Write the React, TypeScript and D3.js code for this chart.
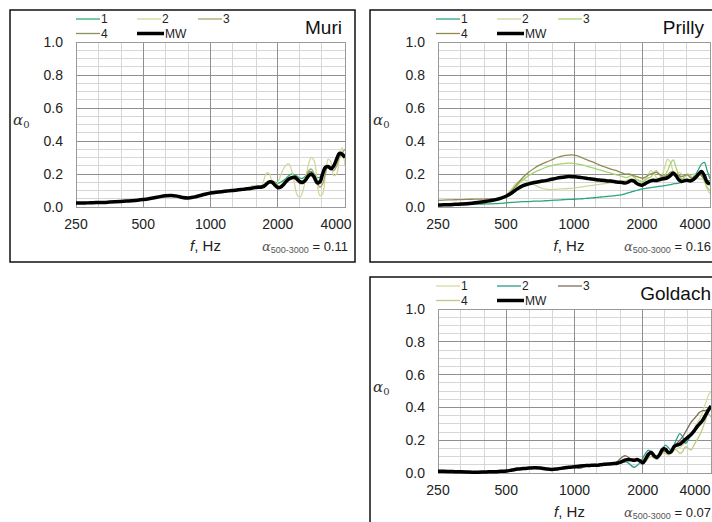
import React from "react";
import * as d3 from "d3";

// frequency points: 1/12 octave up to 1 kHz, 1/24 octave above
const freqs = [
  250, 265, 281, 297, 315, 334, 354, 375, 397, 420, 445, 472, 500, 530, 561, 595, 630, 667, 707, 749, 794, 841, 891, 944, 1000,
  1029, 1059, 1090, 1122, 1155, 1189, 1224, 1260, 1297, 1335, 1374, 1414,
  1456, 1498, 1542, 1587, 1634, 1682, 1731, 1782, 1834, 1888, 1943, 2000,
  2059, 2119, 2181, 2245, 2311, 2378, 2448, 2520, 2594, 2670, 2748, 2828,
  2911, 2997, 3084, 3175, 3268, 3364, 3462, 3564, 3668, 3775, 3886, 4000,
];
const xTicks = [250, 500, 1000, 2000, 4000];
const xMinor = [315, 400, 630, 800, 1250, 1600, 2500, 3150];
const yTicks = [0, 0.2, 0.4, 0.6, 0.8, 1.0];
const legendLabels = ["1", "2", "3", "4", "MW"];

// Muri
const muri1 = [
  0.026, 0.026, 0.026, 0.027, 0.028, 0.029, 0.031, 0.033, 0.035, 0.037, 0.039, 0.042, 0.046, 0.051, 0.057, 0.064, 0.069, 0.071, 0.067, 0.06, 0.057, 0.061, 0.069, 0.078, 0.086,
  0.088, 0.09, 0.092, 0.094, 0.096, 0.098, 0.1, 0.101, 0.103, 0.105, 0.107, 0.109,
  0.111, 0.113, 0.116, 0.12, 0.125, 0.13, 0.135, 0.14, 0.145, 0.15, 0.15, 0.145,
  0.15, 0.16, 0.175, 0.19, 0.2, 0.195, 0.185, 0.175, 0.175, 0.19, 0.21, 0.215,
  0.2, 0.18, 0.18, 0.21, 0.24, 0.25, 0.24, 0.25, 0.28, 0.31, 0.32, 0.31,
];
const muri2 = [
  0.024, 0.024, 0.025, 0.025, 0.026, 0.027, 0.029, 0.031, 0.033, 0.035, 0.037, 0.04, 0.044, 0.049, 0.055, 0.062, 0.067, 0.07, 0.066, 0.057, 0.053, 0.058, 0.066, 0.075, 0.083,
  0.087, 0.09, 0.09, 0.092, 0.096, 0.098, 0.098, 0.1, 0.103, 0.105, 0.105, 0.108,
  0.112, 0.12, 0.13, 0.125, 0.115, 0.12, 0.16, 0.205, 0.2, 0.15, 0.13, 0.15,
  0.19, 0.23, 0.255, 0.26, 0.22, 0.14, 0.07, 0.06, 0.1, 0.18, 0.26, 0.3,
  0.28, 0.17, 0.07, 0.08, 0.2, 0.29, 0.27, 0.19, 0.2, 0.3, 0.36, 0.25,
];
const muri3 = [
  0.026, 0.026, 0.026, 0.026, 0.027, 0.028, 0.03, 0.032, 0.034, 0.036, 0.038, 0.041, 0.045, 0.05, 0.056, 0.063, 0.068, 0.07, 0.066, 0.058, 0.055, 0.06, 0.068, 0.077, 0.085,
  0.087, 0.089, 0.091, 0.093, 0.095, 0.097, 0.099, 0.1, 0.102, 0.104, 0.106, 0.108,
  0.11, 0.112, 0.118, 0.125, 0.13, 0.125, 0.12, 0.13, 0.15, 0.16, 0.15, 0.13,
  0.12, 0.13, 0.16, 0.18, 0.18, 0.17, 0.155, 0.14, 0.15, 0.18, 0.22, 0.23,
  0.2, 0.16, 0.12, 0.14, 0.2, 0.25, 0.24, 0.22, 0.25, 0.3, 0.33, 0.35,
];
const muri4 = [
  0.024, 0.024, 0.024, 0.025, 0.026, 0.027, 0.029, 0.031, 0.033, 0.035, 0.037, 0.04, 0.044, 0.049, 0.055, 0.062, 0.067, 0.069, 0.065, 0.057, 0.054, 0.059, 0.067, 0.076, 0.084,
  0.086, 0.088, 0.09, 0.092, 0.094, 0.096, 0.098, 0.099, 0.101, 0.103, 0.105, 0.107,
  0.109, 0.111, 0.114, 0.117, 0.119, 0.12, 0.125, 0.135, 0.145, 0.145, 0.135, 0.125,
  0.125, 0.135, 0.15, 0.165, 0.17, 0.175, 0.17, 0.16, 0.16, 0.17, 0.185, 0.19,
  0.18, 0.16, 0.16, 0.19, 0.23, 0.24, 0.23, 0.25, 0.28, 0.31, 0.31, 0.3,
];
const muriMW = [
  0.025, 0.025, 0.025, 0.026, 0.027, 0.028, 0.03, 0.032, 0.034, 0.036, 0.038, 0.041, 0.045, 0.05, 0.056, 0.063, 0.068, 0.07, 0.066, 0.058, 0.055, 0.06, 0.068, 0.077, 0.085,
  0.087, 0.089, 0.091, 0.093, 0.095, 0.097, 0.099, 0.1, 0.102, 0.104, 0.106, 0.108,
  0.11, 0.112, 0.115, 0.118, 0.12, 0.12, 0.125, 0.14, 0.152, 0.15, 0.132, 0.118,
  0.12, 0.135, 0.155, 0.17, 0.178, 0.18, 0.168, 0.152, 0.15, 0.165, 0.19, 0.2,
  0.18, 0.148, 0.15, 0.2, 0.24, 0.245, 0.232, 0.25, 0.29, 0.325, 0.32, 0.3,
];

// Prilly
const prilly1 = [
  0.012, 0.012, 0.013, 0.013, 0.014, 0.015, 0.016, 0.017, 0.018, 0.019, 0.02, 0.022, 0.025, 0.028, 0.03, 0.032, 0.033, 0.035, 0.036, 0.038, 0.04, 0.042, 0.044, 0.046, 0.047,
  0.048, 0.049, 0.05, 0.052, 0.053, 0.055, 0.056, 0.058, 0.06, 0.061, 0.063, 0.065,
  0.066, 0.068, 0.07, 0.072, 0.075, 0.08, 0.085, 0.09, 0.095, 0.1, 0.105, 0.11,
  0.112, 0.115, 0.118, 0.12, 0.122, 0.125, 0.127, 0.13, 0.132, 0.135, 0.14, 0.142,
  0.145, 0.15, 0.155, 0.16, 0.165, 0.18, 0.2, 0.23, 0.26, 0.27, 0.22, 0.17,
];
const prilly2 = [
  0.015, 0.016, 0.017, 0.018, 0.02, 0.022, 0.024, 0.027, 0.03, 0.035, 0.04, 0.05, 0.07, 0.11, 0.15, 0.165, 0.155, 0.135, 0.118, 0.108, 0.105, 0.108, 0.11, 0.112, 0.115,
  0.118, 0.12, 0.122, 0.125, 0.128, 0.13, 0.132, 0.135, 0.137, 0.14, 0.142, 0.145,
  0.147, 0.15, 0.152, 0.155, 0.158, 0.16, 0.165, 0.17, 0.17, 0.165, 0.16, 0.16,
  0.17, 0.19, 0.22, 0.21, 0.18, 0.17, 0.19, 0.24, 0.29, 0.27, 0.22, 0.2,
  0.21, 0.2, 0.17, 0.16, 0.17, 0.2, 0.19, 0.17, 0.17, 0.16, 0.11, 0.08,
];
const prilly3 = [
  0.015, 0.016, 0.017, 0.018, 0.019, 0.02, 0.022, 0.025, 0.028, 0.032, 0.037, 0.045, 0.06, 0.09, 0.13, 0.165, 0.19, 0.21, 0.225, 0.24, 0.25, 0.258, 0.263, 0.266, 0.265,
  0.262, 0.258, 0.255, 0.25, 0.245, 0.24, 0.235, 0.23, 0.225, 0.22, 0.215, 0.21,
  0.205, 0.2, 0.195, 0.19, 0.185, 0.18, 0.18, 0.19, 0.185, 0.17, 0.16, 0.15,
  0.16, 0.175, 0.18, 0.2, 0.22, 0.2, 0.18, 0.19, 0.22, 0.26, 0.285, 0.24,
  0.19, 0.17, 0.18, 0.2, 0.19, 0.17, 0.18, 0.2, 0.19, 0.16, 0.12, 0.1,
];
const prilly4 = [
  0.04, 0.042, 0.043, 0.044, 0.045, 0.046, 0.047, 0.048, 0.048, 0.049, 0.05, 0.055, 0.07, 0.1, 0.14, 0.18, 0.21, 0.235, 0.255, 0.27, 0.285, 0.3, 0.31, 0.315, 0.315,
  0.312, 0.305, 0.298, 0.29, 0.283, 0.277, 0.27, 0.262, 0.255, 0.248, 0.242, 0.236,
  0.23, 0.225, 0.22, 0.213, 0.207, 0.2, 0.2, 0.198, 0.19, 0.185, 0.18, 0.175,
  0.18, 0.19, 0.2, 0.205, 0.21, 0.2, 0.19, 0.185, 0.195, 0.21, 0.215, 0.2,
  0.19, 0.185, 0.19, 0.195, 0.18, 0.17, 0.185, 0.2, 0.19, 0.17, 0.16, 0.16,
];
const prillyMW = [
  0.012, 0.013, 0.014, 0.016, 0.018, 0.02, 0.023, 0.027, 0.032, 0.037, 0.043, 0.052, 0.065, 0.085, 0.11, 0.13, 0.14, 0.148, 0.155, 0.16, 0.168, 0.175, 0.18, 0.185, 0.183,
  0.182, 0.18, 0.178, 0.175, 0.172, 0.17, 0.168, 0.165, 0.163, 0.162, 0.16, 0.158,
  0.157, 0.155, 0.152, 0.15, 0.148, 0.145, 0.15, 0.16, 0.158, 0.145, 0.135, 0.132,
  0.14, 0.15, 0.158, 0.162, 0.16, 0.165, 0.17, 0.172, 0.178, 0.19, 0.205, 0.19,
  0.165, 0.155, 0.16, 0.162, 0.158, 0.165, 0.18, 0.2, 0.215, 0.19, 0.15, 0.14,
];

// Goldach
const goldach1 = [
  0.012, 0.012, 0.011, 0.01, 0.009, 0.008, 0.007, 0.007, 0.008, 0.009, 0.01, 0.012, 0.014, 0.02, 0.026, 0.03, 0.033, 0.035, 0.032, 0.027, 0.024, 0.027, 0.032, 0.037, 0.04,
  0.042, 0.044, 0.046, 0.047, 0.048, 0.05, 0.05, 0.05, 0.052, 0.054, 0.056, 0.058,
  0.06, 0.062, 0.064, 0.068, 0.074, 0.08, 0.085, 0.085, 0.082, 0.085, 0.08, 0.07,
  0.085, 0.11, 0.12, 0.105, 0.1, 0.11, 0.13, 0.135, 0.12, 0.12, 0.14, 0.15,
  0.155, 0.17, 0.19, 0.21, 0.24, 0.27, 0.3, 0.33, 0.37, 0.42, 0.47, 0.5,
];
const goldach2 = [
  0.008, 0.008, 0.008, 0.007, 0.006, 0.005, 0.004, 0.004, 0.005, 0.006, 0.007, 0.009, 0.011, 0.016, 0.022, 0.025, 0.028, 0.03, 0.028, 0.024, 0.021, 0.023, 0.028, 0.033, 0.036,
  0.038, 0.04, 0.042, 0.043, 0.044, 0.045, 0.046, 0.046, 0.048, 0.05, 0.052, 0.053,
  0.054, 0.055, 0.058, 0.06, 0.065, 0.068, 0.06, 0.045, 0.035, 0.045, 0.065, 0.09,
  0.12, 0.14, 0.13, 0.1, 0.085, 0.11, 0.15, 0.17, 0.155, 0.14, 0.17, 0.21,
  0.24, 0.22, 0.18, 0.2, 0.24, 0.25, 0.27, 0.3, 0.33, 0.36, 0.38, 0.4,
];
const goldach3 = [
  0.01, 0.01, 0.009, 0.008, 0.007, 0.006, 0.005, 0.005, 0.006, 0.007, 0.008, 0.01, 0.012, 0.018, 0.024, 0.027, 0.03, 0.032, 0.03, 0.025, 0.022, 0.025, 0.03, 0.035, 0.035,
  0.03, 0.028, 0.035, 0.045, 0.05, 0.05, 0.048, 0.047, 0.05, 0.052, 0.055, 0.056,
  0.058, 0.062, 0.07, 0.085, 0.1, 0.105, 0.095, 0.08, 0.07, 0.075, 0.07, 0.06,
  0.075, 0.1, 0.12, 0.11, 0.1, 0.11, 0.13, 0.13, 0.12, 0.13, 0.16, 0.18,
  0.2, 0.22, 0.25, 0.28, 0.31, 0.33, 0.35, 0.37, 0.38, 0.38, 0.39, 0.4,
];
const goldach4 = [
  0.01, 0.01, 0.009, 0.008, 0.007, 0.006, 0.005, 0.005, 0.006, 0.007, 0.008, 0.01, 0.012, 0.018, 0.024, 0.027, 0.03, 0.032, 0.03, 0.025, 0.022, 0.025, 0.03, 0.035, 0.04,
  0.042, 0.044, 0.046, 0.046, 0.046, 0.047, 0.048, 0.048, 0.05, 0.052, 0.054, 0.055,
  0.055, 0.056, 0.058, 0.06, 0.065, 0.07, 0.075, 0.08, 0.08, 0.085, 0.08, 0.065,
  0.07, 0.09, 0.1, 0.09, 0.085, 0.1, 0.12, 0.12, 0.11, 0.12, 0.14, 0.14,
  0.12, 0.13, 0.16, 0.15, 0.14, 0.17, 0.2, 0.23, 0.27, 0.32, 0.36, 0.34,
];
const goldachMW = [
  0.01, 0.01, 0.009, 0.008, 0.007, 0.006, 0.005, 0.005, 0.006, 0.007, 0.008, 0.01, 0.012, 0.018, 0.024, 0.027, 0.03, 0.032, 0.03, 0.025, 0.022, 0.025, 0.03, 0.035, 0.038,
  0.04, 0.042, 0.044, 0.045, 0.046, 0.047, 0.048, 0.048, 0.05, 0.052, 0.054, 0.055,
  0.056, 0.058, 0.06, 0.065, 0.072, 0.08, 0.082, 0.08, 0.078, 0.082, 0.075, 0.062,
  0.085, 0.115, 0.125, 0.105, 0.095, 0.115, 0.145, 0.145, 0.125, 0.13, 0.16, 0.17,
  0.175, 0.19, 0.205, 0.22, 0.235, 0.255, 0.28, 0.3, 0.32, 0.35, 0.38, 0.41,
];

const panels = [
  {
    name: "Muri", alpha: "0.11",
    bx: 10, by: 10, bw: 345, bh: 252,
    left: 76, right: 345, top: 42, bottom: 207, titleX: 342, titleY: 34, alphaX: 348, lastShift: 9,
    series: [muri1, muri2, muri3, muri4], mw: muriMW,
    colors: ["#2fae74", "#d3d79b", "#a9a567", "#8a9062"],
  },
  {
    name: "Prilly", alpha: "0.16",
    bx: 370, by: 10, bw: 350, bh: 252,
    left: 438, right: 710, top: 42, bottom: 207, titleX: 704, titleY: 34, alphaX: 711, lastShift: 15,
    series: [prilly1, prilly2, prilly3, prilly4], mw: prillyMW,
    colors: ["#2aa67e", "#d2d69c", "#a5d46e", "#8f8a55"],
  },
  {
    name: "Goldach", alpha: "0.07",
    bx: 370, by: 277, bw: 350, bh: 252,
    left: 438, right: 711, top: 309, bottom: 473, titleX: 711, titleY: 300, alphaX: 711, lastShift: 16,
    series: [goldach1, goldach2, goldach3, goldach4], mw: goldachMW,
    colors: ["#d5dc9c", "#2a9d8f", "#7d6c57", "#c3cb83"],
  },
];

const FONT = "Arial, 'Liberation Sans', Helvetica, sans-serif";

function Panel({ p }: { p: any }) {
  const x = d3.scaleLog().base(2).domain([250, 4000]).range([p.left, p.right]);
  const y = d3.scaleLinear().domain([0, 1]).range([p.bottom, p.top]);
  const line = d3
    .line<number>()
    .x((d, i) => x(freqs[i]))
    .y((d) => y(d))
    .defined((d, i) => i < freqs.length)
    .curve(d3.curveCatmullRom.alpha(0.5));
  const yMinor = d3.range(0.05, 1, 0.05).filter((v) => Math.abs(v * 5 - Math.round(v * 5)) > 0.01);
  const clipId = `clip-${p.name}`;
  const cx = (p.left + p.right) / 2 - 5;

  const legend = legendLabels.map((label, i) => ({
    label,
    dx: [66, 127, 188, 66, 127][i],
    row: i < 3 ? 0 : 1,
    color: i < 4 ? p.colors[i] : "#000",
    width: i < 4 ? 1.3 : 3.5,
  }));

  return (
    <g fontFamily={FONT}>
      <rect x={p.bx} y={p.by} width={p.bw} height={p.bh} fill="#fff" stroke="#111" strokeWidth={1.5} />
      <clipPath id={clipId}>
        <rect x={p.left} y={p.top - 2} width={p.right - p.left} height={p.bottom - p.top + 4} />
      </clipPath>
      <g shapeRendering="crispEdges">
        {yMinor.map((v) => (
          <line key={`hm${v}`} x1={p.left} x2={p.right} y1={y(v)} y2={y(v)} stroke="#d6d6d6" />
        ))}
        {xMinor.map((f) => (
          <line key={`vm${f}`} x1={x(f)} x2={x(f)} y1={p.top} y2={p.bottom} stroke="#d6d6d6" />
        ))}
        {yTicks.map((v) => (
          <line key={`h${v}`} x1={p.left} x2={p.right} y1={y(v)} y2={y(v)} stroke="#8f8f8f" />
        ))}
        {xTicks.map((f) => (
          <line key={`v${f}`} x1={x(f)} x2={x(f)} y1={p.top} y2={p.bottom} stroke="#8f8f8f" />
        ))}
        <rect x={p.left} y={p.top} width={p.right - p.left} height={p.bottom - p.top} fill="none" stroke="#9a9a9a" />
      </g>

      <g clipPath={`url(#${clipId})`} fill="none">
        {p.series.map((s: number[], i: number) => (
          <path key={i} d={line(s) || ""} stroke={p.colors[i]} strokeWidth={1.3} />
        ))}
        <path d={line(p.mw) || ""} stroke="#000" strokeWidth={3.5} strokeLinejoin="round" />
      </g>

      {yTicks.map((v) => (
        <text key={`yl${v}`} x={p.left - 13} y={y(v) + 5} textAnchor="end" fontSize={14} fill="#222">
          {v.toFixed(1)}
        </text>
      ))}
      {xTicks.map((f, i) => (
        <text
          key={`xl${f}`}
          x={x(f) - (i === xTicks.length - 1 ? p.lastShift : 0)}
          y={p.bottom + 22}
          textAnchor="middle"
          fontSize={14}
          fill="#222"
        >
          {f}
        </text>
      ))}

      <text x={cx} y={p.bottom + 44} textAnchor="middle" fontSize={15} fill="#222">
        <tspan fontStyle="italic">f</tspan>, Hz
      </text>
      <text x={p.alphaX} y={p.bottom + 44} textAnchor="end" fontSize={13} fill="#222">
        <tspan fontStyle="italic" fill="#555" fontFamily="'DejaVu Serif', serif">α</tspan>
        <tspan fontSize={9} dy={2} fill="#555">500-3000</tspan>
        <tspan dy={-2}> = {p.alpha}</tspan>
      </text>

      <text x={p.bx + 3} y={p.by + 115} fontSize={15} fill="#333" fontFamily="'DejaVu Serif', serif">
        <tspan fontStyle="italic">α</tspan>
        <tspan fontSize={10} dy={3}>0</tspan>
      </text>

      {legend.map((l) => {
        const ly = p.by + 9 + l.row * 14.5;
        const len = l.label === "MW" ? 27 : 24;
        return (
          <g key={l.label}>
            <line x1={p.bx + l.dx} x2={p.bx + l.dx + len} y1={ly} y2={ly} stroke={l.color} strokeWidth={l.width} />
            <text x={p.bx + l.dx + len + 1} y={ly + 4} fontSize={12} fill="#222">
              {l.label}
            </text>
          </g>
        );
      })}

      <text x={p.titleX} y={p.titleY} textAnchor="end" fontSize={19} fill="#111">
        {p.name}
      </text>
    </g>
  );
}

export default function App() {
  return (
    <svg width={712} height={522} style={{ position: "absolute", left: 0, top: 0, background: "#fff" }}>
      <rect width={712} height={522} fill="#fff" />
      {panels.map((p) => (
        <Panel key={p.name} p={p} />
      ))}
    </svg>
  );
}
